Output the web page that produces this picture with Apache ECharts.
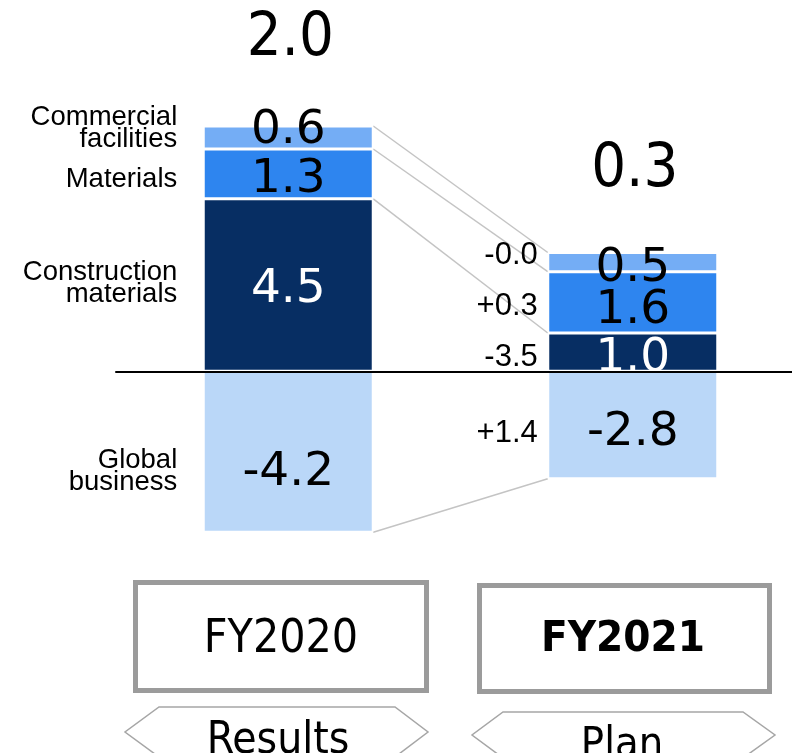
<!DOCTYPE html>
<html>
<head>
<meta charset="utf-8">
<script src="https://cdn.jsdelivr.net/npm/echarts@6/dist/echarts.min.js"></script>
<style>
  html, body { margin: 0; padding: 0; background: #fff; }
  #chart { width: 792px; height: 753px; }
</style>
</head>
<body>
<div id="chart"></div>
<script>
// ---- data ----
const years = ['FY2020', 'FY2021'];
const yearNotes = ['Results', 'Plan'];
const construction = [4.5, 1.0];
const materials = [1.3, 1.6];
const commercial = [0.6, 0.5];
const globalBiz = [-4.2, -2.8];
const totals = [2.0, 0.3];
// segment names, top to bottom
const segmentNames = ['Commercial\nfacilities', 'Materials', 'Construction\nmaterials', 'Global\nbusiness'];
// year-on-year change, top to bottom
const changes = ['-0.0', '+0.3', '-3.5', '+1.4'];

// ---- layout ----
const BAR_W = 170;
const colors = {
  commercial: '#74ADF5',
  materials: '#2E85EF',
  construction: '#072E63',
  global: '#BAD7F8'
};
// vertical nudges of the value labels, [FY2020, FY2021]
const valueNudge = {
  commercial: [-7, 7],
  materials: [6, 8],
  construction: [5, 7],
  global: [21, 8]
};
// vertical nudges of side notes, top to bottom
const nameNudge = [-9, 6, -2, 20];
const changeNudge = [-7, 4, 5, 8];
const totalNudge = [-87, -82];

const chart = echarts.init(document.getElementById('chart'), null, { renderer: 'canvas' });

function barSeries(name, values, color, key, labelColor) {
  return {
    name: name,
    type: 'bar',
    stack: 'sales',
    barWidth: BAR_W,
    itemStyle: { color: color, borderColor: '#fff', borderWidth: 1.5 },
    data: values.map((v, i) => ({
      value: v,
      label: { offset: [0, valueNudge[key][i]] }
    })),
    label: {
      show: true,
      position: 'inside',
      formatter: p => p.value.toFixed(1),
      fontFamily: 'DejaVu Sans',
      fontSize: 47,
      color: labelColor
    },
    emphasis: { disabled: true },
    z: 2
  };
}

// stacked boundaries per year, top to bottom
const boundaries = years.map((_, j) => {
  const c = construction[j];
  const m = c + materials[j];
  const t = m + commercial[j];
  return [t, m, c, 0, globalBiz[j]];
});

// connectors between the two bars: top, two inner joints, bottom
const connectorRows = [0, 1, 2, 4].map(k => [0, boundaries[0][k], boundaries[1][k]]);

// segment midpoints (top to bottom) for side notes
function mids(j) {
  const b = boundaries[j];
  return [(b[0] + b[1]) / 2, (b[1] + b[2]) / 2, (b[2] + b[3]) / 2, (b[3] + b[4]) / 2];
}
const noteRows = [];
mids(0).forEach((v, k) => noteRows.push([0, v, k]));
mids(1).forEach((v, k) => noteRows.push([1, v, k]));
const totalRows = years.map((_, j) => [j, boundaries[j][0], j]);

const option = {
  animation: false,
  backgroundColor: '#fff',
  grid: { left: 116, top: 103, width: 689, height: 460, outerBoundsMode: 'none', containLabel: false },
  xAxis: {
    type: 'category',
    data: years,
    axisLine: { onZero: true, lineStyle: { color: '#000', width: 2 } },
    axisTick: { show: false },
    axisLabel: { show: false },
    splitLine: { show: false },
    z: 5
  },
  yAxis: {
    type: 'value',
    min: -5,
    max: 7,
    show: false,
    splitLine: { show: false }
  },
  series: [
    barSeries('Construction materials', construction, colors.construction, 'construction', '#fff'),
    barSeries('Materials', materials, colors.materials, 'materials', '#000'),
    barSeries('Commercial facilities', commercial, colors.commercial, 'commercial', '#000'),
    barSeries('Global business', globalBiz, colors.global, 'global', '#000'),
    {
      name: 'connectors',
      type: 'custom',
      data: connectorRows,
      encode: { x: 0, y: [1, 2] },
      silent: true,
      z: 1,
      renderItem: (params, api) => {
        const a = api.coord([0, api.value(1)]);
        const b = api.coord([1, api.value(2)]);
        return {
          type: 'line',
          shape: { x1: a[0] + BAR_W / 2, y1: a[1], x2: b[0] - BAR_W / 2, y2: b[1] },
          style: { stroke: '#C4C4C4', lineWidth: 1.5 }
        };
      }
    },
    {
      name: 'notes',
      type: 'custom',
      data: noteRows,
      encode: { x: 0, y: 1 },
      silent: true,
      z: 3,
      renderItem: (params, api) => {
        const j = api.value(0);
        const k = api.value(2);
        const p = api.coord([j, api.value(1)]);
        const left = p[0] - BAR_W / 2;
        if (j === 0) {
          return {
            type: 'text',
            x: left - 26,
            y: p[1] + nameNudge[k],
            style: {
              text: segmentNames[k],
              fill: '#000',
              fontFamily: 'Liberation Sans',
              fontSize: 27.5,
              lineHeight: 22,
              align: 'right',
              verticalAlign: 'middle'
            }
          };
        }
        return {
          type: 'text',
          x: left - 10,
          y: p[1] + changeNudge[k],
          style: {
            text: changes[k],
            fill: '#000',
            fontFamily: 'Liberation Sans',
            fontSize: 31,
            align: 'right',
            verticalAlign: 'middle'
          }
        };
      }
    },
    {
      name: 'totals',
      type: 'custom',
      data: totalRows,
      encode: { x: 0, y: 1 },
      silent: true,
      z: 3,
      renderItem: (params, api) => {
        const j = api.value(0);
        const p = api.coord([j, api.value(1)]);
        return {
          type: 'text',
          x: p[0] + 2,
          y: p[1] + totalNudge[j],
          style: {
            text: totals[j].toFixed(1),
            fill: '#000',
            fontFamily: "'DejaVu Sans Condensed', 'DejaVu Sans'",
            fontSize: 61,
            align: 'center',
            verticalAlign: 'middle'
          }
        };
      }
    }
  ],
  graphic: [
    // year boxes
    {
      type: 'rect', left: 133, top: 580,
      shape: { width: 291, height: 108 },
      style: { fill: '#fff', stroke: '#9B9B9B', lineWidth: 5 }
    },
    {
      type: 'text', x: 281, y: 640,
      style: { text: years[0], fill: '#000', fontFamily: "'DejaVu Sans Condensed', 'DejaVu Sans'", fontSize: 46, align: 'center', verticalAlign: 'middle' }
    },
    {
      type: 'rect', left: 477, top: 583,
      shape: { width: 290, height: 106 },
      style: { fill: '#fff', stroke: '#9B9B9B', lineWidth: 5 }
    },
    {
      type: 'text', x: 623, y: 640,
      style: { text: years[1], fill: '#000', fontFamily: "'DejaVu Sans Condensed', 'DejaVu Sans'", fontWeight: 'bold', fontSize: 43.5, align: 'center', verticalAlign: 'middle' }
    },
    // results / plan tags
    {
      type: 'polygon',
      shape: { points: [[159, 707], [395, 707], [428, 732], [395, 757], [159, 757], [125, 732]] },
      style: { fill: '#fff', stroke: '#A6A6A6', lineWidth: 1.5 }
    },
    {
      type: 'text', x: 278, y: 720,
      style: { text: yearNotes[0], fill: '#000', fontFamily: "'DejaVu Sans Condensed', 'DejaVu Sans'", fontSize: 44, align: 'center', verticalAlign: 'top' }
    },
    {
      type: 'polygon',
      shape: { points: [[503, 712], [743, 712], [775, 735], [743, 758], [503, 758], [472, 735]] },
      style: { fill: '#fff', stroke: '#A6A6A6', lineWidth: 1.5 }
    },
    {
      type: 'text', x: 622, y: 724,
      style: { text: yearNotes[1], fill: '#000', fontFamily: "'DejaVu Sans Condensed', 'DejaVu Sans'", fontSize: 43, align: 'center', verticalAlign: 'top' }
    }
  ]
};

chart.setOption(option);
</script>
</body>
</html>
